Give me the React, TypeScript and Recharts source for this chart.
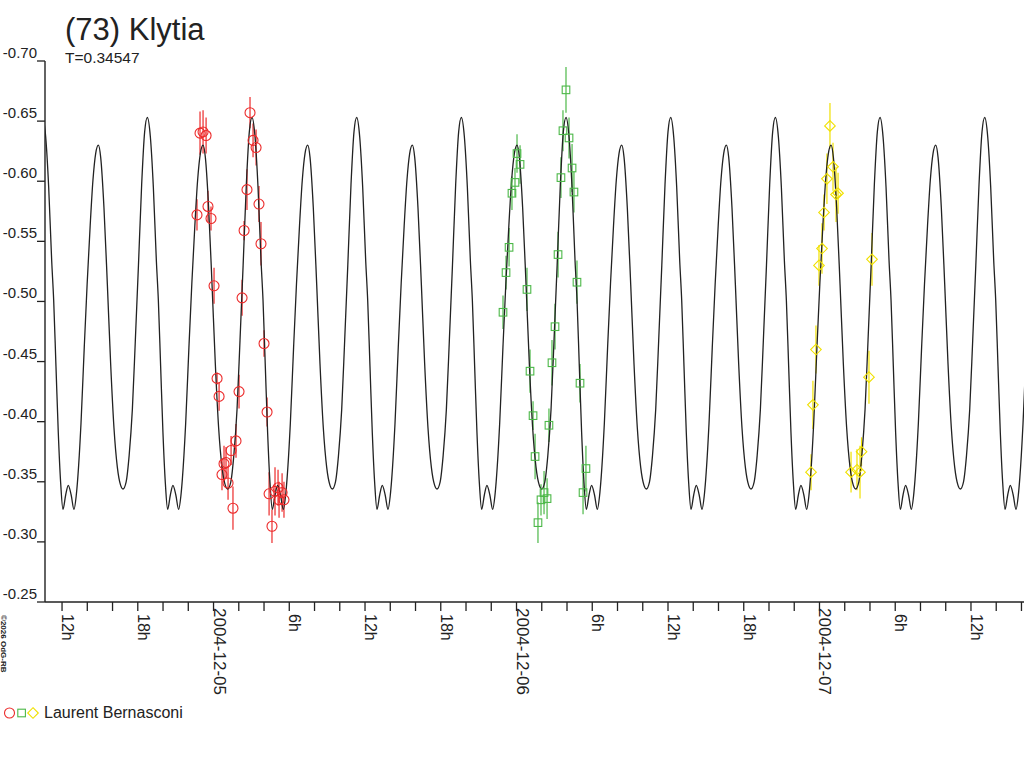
import React from 'react';
import { ComposedChart, Line, Scatter, XAxis, YAxis, ErrorBar } from 'recharts';

// time axis: hours since 2004-12-04 00:00 UT
const X_MIN = 10.65;
const X_MAX = 88.2;

// model lightcurve, one rotation folded on T=0.34547 d, phase 0 = main maximum
const PERIOD_DAYS = 0.34547;
const PEAK_EPOCH_H = 35.34;
const profilePhase = [
  0, 0.0287, 0.0573, 0.086, 0.1051, 0.127, 0.149, 0.1719, 0.1939, 0.2197,
  0.2445, 0.2722, 0.2989, 0.32, 0.3343, 0.3658, 0.3973, 0.425, 0.4537, 0.4804,
  0.5062, 0.532, 0.554, 0.5855, 0.618, 0.6495, 0.681, 0.7135, 0.745, 0.767,
  0.7975, 0.8262, 0.8567, 0.8854, 0.915, 0.9456, 0.9742,
];
const profileMag = [
  -0.653, -0.637, -0.595, -0.534, -0.501, -0.446, -0.391, -0.349, -0.327, -0.339,
  -0.347, -0.339, -0.327, -0.338, -0.352, -0.398, -0.462, -0.515, -0.563, -0.601,
  -0.623, -0.63, -0.62, -0.578, -0.514, -0.448, -0.395, -0.362, -0.347, -0.344,
  -0.35, -0.372, -0.41, -0.468, -0.53, -0.597, -0.641,
];

// observations (Laurent Bernasconi), three nights
const redHours = [
  22.69, 22.93, 23.17, 23.41, 23.56, 23.8, 24.04, 24.28, 24.44, 24.67,
  24.83, 24.99, 25.15, 25.39, 25.54, 25.78, 26.02, 26.26, 26.42, 26.65,
  26.89, 27.13, 27.37, 27.6, 27.76, 28.0, 28.24, 28.4, 28.63, 28.87,
  29.11, 29.19, 29.43, 29.58,
];
const redMag = [
  -0.572, -0.64, -0.641, -0.638, -0.579, -0.569, -0.513, -0.436, -0.421, -0.356,
  -0.365, -0.366, -0.349, -0.376, -0.328, -0.384, -0.425, -0.503, -0.559, -0.593,
  -0.657, -0.634, -0.628, -0.581, -0.548, -0.465, -0.408, -0.34, -0.313, -0.342,
  -0.345, -0.335, -0.341, -0.335,
];
const redErr = [
  0.013, 0.018, 0.018, 0.015, 0.013, 0.01, 0.015, 0.005, 0.012, 0.013,
  0.015, 0.013, 0.014, 0.012, 0.018, 0.014, 0.014, 0.015, 0.008, 0.017,
  0.013, 0.014, 0.015, 0.015, 0.018, 0.011, 0.012, 0.018, 0.014, 0.02,
  0.015, 0.015, 0.016, 0.015,
];

const greenHours = [
  46.93, 47.17, 47.41, 47.64, 47.88, 48.04, 48.28, 48.83, 49.07, 49.31,
  49.47, 49.7, 49.94, 50.18, 50.42, 50.57, 50.81, 51.05, 51.29, 51.52,
  51.68, 51.92, 52.16, 52.4, 52.55, 52.79, 53.03, 53.27, 53.5,
];
const greenMag = [
  -0.491, -0.524, -0.545, -0.59, -0.599, -0.623, -0.614, -0.51, -0.442, -0.405,
  -0.371, -0.316, -0.335, -0.341, -0.336, -0.397, -0.449, -0.479, -0.539, -0.603,
  -0.642, -0.676, -0.636, -0.611, -0.591, -0.516, -0.432, -0.341, -0.361,
];
const greenErr = [
  0.014, 0.014, 0.016, 0.014, 0.012, 0.016, 0.016, 0.018, 0.018, 0.012,
  0.019, 0.017, 0.013, 0.018, 0.017, 0.014, 0.019, 0.019, 0.019, 0.017,
  0.017, 0.019, 0.017, 0.02, 0.017, 0.018, 0.016, 0.018, 0.019,
];

const yellowHours = [
  71.33, 71.48, 71.72, 71.96, 72.2, 72.36, 72.59, 72.83, 73.07, 73.31,
  73.47, 74.5, 74.97, 75.21, 75.33, 75.92, 76.16,
];
const yellowMag = [
  -0.358, -0.414, -0.46, -0.53, -0.544, -0.574, -0.602, -0.646, -0.612, -0.589,
  -0.59, -0.358, -0.36, -0.358, -0.375, -0.437, -0.535,
];
const yellowErr = [
  0.015, 0.02, 0.02, 0.017, 0.021, 0.015, 0.021, 0.019, 0.02, 0.023,
  0.017, 0.017, 0.017, 0.022, 0.012, 0.022, 0.022,
];

const yTicks = [-0.7, -0.65, -0.6, -0.55, -0.5, -0.45, -0.4, -0.35, -0.3, -0.25];
const minorHours = [
  12, 14, 16, 18, 20, 22, 24, 26, 28, 30, 32, 34, 36, 38, 40, 42, 44, 46, 48, 50,
  52, 54, 56, 58, 60, 62, 64, 66, 68, 70, 72, 74, 76, 78, 80, 82, 84, 86, 88,
];
const majorHours = [12, 18, 24, 30, 36, 42, 48, 54, 60, 66, 72, 78, 84];
const majorLabels = [
  '12h', '18h', '2004-12-05', '6h', '12h', '18h', '2004-12-06', '6h', '12h', '18h',
  '2004-12-07', '6h', '12h',
];

const RED = '#ec2a2a';
const GREEN = '#4cb848';
const YELLOW = '#f0e000';
const INK = '#222';
const FONT = '"Liberation Sans", Arial, sans-serif';

const periodH = PERIOD_DAYS * 24;
const curve: { h: number; v: number }[] = [];
for (let k = -4; k <= 8; k++) {
  profilePhase.forEach((p, i) => {
    const h = PEAK_EPOCH_H + (k + p) * periodH;
    if (h > X_MIN - 0.7 && h < X_MAX + 0.7) curve.push({ h, v: profileMag[i] });
  });
}

const toPts = (hs: number[], ms: number[], es: number[]) =>
  hs.map((h, i) => ({ h, v: ms[i], err: es[i] }));
const redPts = toPts(redHours, redMag, redErr);
const greenPts = toPts(greenHours, greenMag, greenErr);
const yellowPts = toPts(yellowHours, yellowMag, yellowErr);

const CircleMark = (p: any) => (
  <circle cx={p.cx} cy={p.cy} r={5} fill="none" stroke={RED} strokeWidth={1.1} />
);
const SquareMark = (p: any) => (
  <rect x={p.cx - 3.8} y={p.cy - 3.8} width={7.6} height={7.6} fill="none" stroke={GREEN} strokeWidth={1.1} />
);
const DiamondMark = (p: any) => (
  <path
    d={`M${p.cx},${p.cy - 5.3}L${p.cx + 5.3},${p.cy}L${p.cx},${p.cy + 5.3}L${p.cx - 5.3},${p.cy}Z`}
    fill="none"
    stroke={YELLOW}
    strokeWidth={1.1}
  />
);

const YTick = (p: any) => (
  <g>
    <line x1={p.x - 8} x2={p.x} y1={p.y} y2={p.y} stroke={INK} strokeWidth={1.3} />
    <text x={p.x - 8} y={p.y - 3} textAnchor="end" fontSize={15} fontFamily={FONT} fill={INK}>
      {Number(p.payload.value).toFixed(2)}
    </text>
  </g>
);

const XTick = (p: any) => {
  const idx = majorHours.indexOf(p.payload.value);
  const label = idx >= 0 ? majorLabels[idx] : null;
  const isDate = label !== null && label.length > 4;
  return (
    <g>
      <line x1={p.x} x2={p.x} y1={p.y} y2={p.y + 9} stroke={INK} strokeWidth={1.3} />
      {label && (
        <text
          transform={`translate(${p.x},${p.y + (isDate ? 6 : 12)}) rotate(90)`}
          fontSize={isDate ? 17 : 16}
          fontFamily={FONT}
          fill={INK}
        >
          {label}
        </text>
      )}
    </g>
  );
};

export default function App() {
  return (
    <div style={{ position: 'absolute', left: 0, top: 0, width: 1024, height: 768, background: '#fff' }}>
      <ComposedChart width={1024} height={768} margin={{ top: 61, right: 0, bottom: 0, left: 0 }}>
        <XAxis
          type="number"
          dataKey="h"
          domain={[X_MIN, X_MAX]}
          allowDataOverflow
          ticks={minorHours}
          interval={0}
          tick={(p: any) => <XTick {...p} />}
          tickLine={false}
          tickSize={0}
          tickMargin={0}
          height={166}
          axisLine={{ stroke: INK, strokeWidth: 1.4 }}
        />
        <YAxis
          type="number"
          domain={[-0.7, -0.25]}
          reversed
          allowDataOverflow
          ticks={yTicks}
          interval={0}
          width={45}
          tick={(p: any) => <YTick {...p} />}
          tickLine={false}
          tickSize={0}
          tickMargin={0}
          axisLine={{ stroke: INK, strokeWidth: 1.4 }}
        />
        <Scatter data={redPts} dataKey="v" shape={CircleMark} isAnimationActive={false}>
          <ErrorBar dataKey="err" direction="y" width={0} stroke={RED} strokeWidth={1.2} isAnimationActive={false} />
        </Scatter>
        <Scatter data={greenPts} dataKey="v" shape={SquareMark} isAnimationActive={false}>
          <ErrorBar dataKey="err" direction="y" width={0} stroke={GREEN} strokeWidth={1.2} isAnimationActive={false} />
        </Scatter>
        <Scatter data={yellowPts} dataKey="v" shape={DiamondMark} isAnimationActive={false}>
          <ErrorBar dataKey="err" direction="y" width={0} stroke={YELLOW} strokeWidth={1.2} isAnimationActive={false} />
        </Scatter>
        <Line
          data={curve}
          dataKey="v"
          type="monotone"
          stroke={INK}
          strokeWidth={1.3}
          dot={false}
          activeDot={false}
          isAnimationActive={false}
        />
      </ComposedChart>
      <svg
        width={1024}
        height={768}
        style={{ position: 'absolute', left: 0, top: 0, pointerEvents: 'none' }}
        fontFamily={FONT}
      >
        <text x={65} y={40} fontSize={31} fill={INK}>(73) Klytia</text>
        <text x={65} y={63} fontSize={15.5} fill={INK}>T=0.34547</text>
        <text transform="translate(1,615) rotate(90)" fontSize={8} fontWeight="bold" fill={INK}>
          ©2026 OdG-RB
        </text>
        <circle cx={9.5} cy={713} r={5} fill="none" stroke={RED} strokeWidth={1.1} />
        <rect x={17.8} y={709.2} width={7.6} height={7.6} fill="none" stroke={GREEN} strokeWidth={1.1} />
        <path d="M33,707.7L38.3,713L33,718.3L27.7,713Z" fill="none" stroke={YELLOW} strokeWidth={1.1} />
        <text x={44} y={718} fontSize={16} fill={INK}>Laurent Bernasconi</text>
      </svg>
    </div>
  );
}
